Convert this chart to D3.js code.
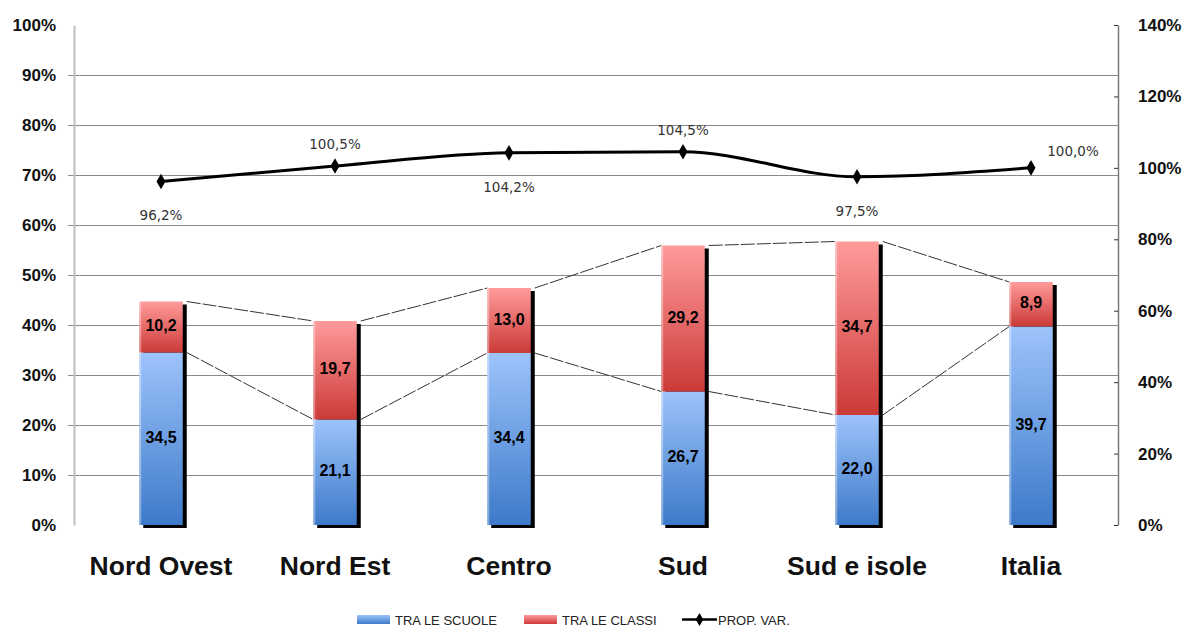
<!DOCTYPE html>
<html>
<head>
<meta charset="utf-8">
<script src="https://cdn.jsdelivr.net/npm/d3@7"></script>
<style>
  body { margin: 0; background: #fff; }
  svg { display: block; }
</style>
</head>
<body>
<svg id="chart" width="1187" height="628"></svg>
<script>
// data
var categories = ["Nord Ovest", "Nord Est", "Centro", "Sud", "Sud e isole", "Italia"];
var traScuole = [34.5, 21.1, 34.4, 26.7, 22.0, 39.7];
var traClassi = [10.2, 19.7, 13.0, 29.2, 34.7, 8.9];
var propVar = [96.2, 100.5, 104.2, 104.5, 97.5, 100.0];
var leftTicks = [0, 10, 20, 30, 40, 50, 60, 70, 80, 90, 100];
var rightTicks = [0, 20, 40, 60, 80, 100, 120, 140];
// where each PROP. VAR. label sits around its point
var labelPlace = ["below", "above", "below", "above", "below", "right"];

var svg = d3.select("#chart");
var fmt = function(v) { return v.toFixed(1).replace(".", ","); };

var x = d3.scaleBand().domain(categories).range([74, 1118])
    .paddingInner(0.75).paddingOuter(0.375);
var y = d3.scaleLinear().domain([0, 100]).range([525, 25]);
var y2 = d3.scaleLinear().domain([0, 140]).range([525, 25]);
var bw = x.bandwidth();

// gradients
var defs = svg.append("defs");
function grad(id, top, bottom) {
    var g = defs.append("linearGradient").attr("id", id)
        .attr("x1", 0).attr("y1", 0).attr("x2", 0).attr("y2", 1);
    g.append("stop").attr("offset", "0%").attr("stop-color", top);
    g.append("stop").attr("offset", "100%").attr("stop-color", bottom);
}
grad("gBlue", "#9dc3fb", "#3d7ac9");
grad("gRed", "#ff9b9b", "#cb3a37");

// gridlines (no line at 0 or 100)
svg.append("g").selectAll("line")
    .data(leftTicks.filter(function(d) { return d > 0 && d < 100; }))
    .enter().append("line")
    .attr("x1", 68).attr("x2", 1118)
    .attr("y1", function(d) { return Math.round(y(d)) + 0.5; })
    .attr("y2", function(d) { return Math.round(y(d)) + 0.5; })
    .style("stroke", "#8a8a8a").style("stroke-width", 1);

// left axis
var leftAxis = d3.axisLeft(y).tickValues(leftTicks).tickSize(0).tickPadding(18)
    .tickFormat(function(d) { return d + "%"; });
var gl = svg.append("g").attr("transform", "translate(74,0)").call(leftAxis);
gl.select(".domain").style("stroke", "#c0c0c0").style("stroke-width", 2);
gl.selectAll("text").style("font-family", "'Liberation Sans', Arial, sans-serif")
    .style("font-size", "17px").style("font-weight", "bold").style("fill", "#111");

// right axis
var rightAxis = d3.axisRight(y2).tickValues(rightTicks).tickSizeInner(-4).tickSizeOuter(0)
    .tickPadding(20).tickFormat(function(d) { return d + "%"; });
var gr = svg.append("g").attr("transform", "translate(1118,0)").call(rightAxis);
gr.select(".domain").style("stroke", "#7a7a7a").style("stroke-width", 1.5);
gr.selectAll(".tick line").style("stroke", "#333");
gr.selectAll("text").style("font-family", "'Liberation Sans', Arial, sans-serif")
    .style("font-size", "17px").style("font-weight", "bold").style("fill", "#111");

// series lines between bars
var seriesLines = svg.append("g");
[traScuole, traScuole.map(function(v, i) { return v + traClassi[i]; })].forEach(function(arr) {
    for (var i = 0; i < categories.length - 1; i++) {
        seriesLines.append("line")
            .attr("x1", x(categories[i]) + bw + 4).attr("y1", y(arr[i]))
            .attr("x2", x(categories[i + 1])).attr("y2", y(arr[i + 1]))
            .style("stroke", "#333").style("stroke-width", 1)
            .style("stroke-dasharray", "14,2");
    }
});

// bars
var bars = svg.append("g").selectAll("g").data(categories).enter().append("g");
bars.append("rect")
    .attr("x", function(d) { return x(d) + 4; })
    .attr("y", function(d, i) { return y(traScuole[i] + traClassi[i]) + 3; })
    .attr("width", bw)
    .attr("height", function(d, i) { return y(0) - y(traScuole[i] + traClassi[i]); })
    .style("fill", "#000");
bars.append("rect")
    .attr("x", function(d) { return x(d); })
    .attr("y", function(d, i) { return y(traScuole[i]); })
    .attr("width", bw)
    .attr("height", function(d, i) { return y(0) - y(traScuole[i]); })
    .style("fill", "url(#gBlue)");
bars.append("rect")
    .attr("x", function(d) { return x(d); })
    .attr("y", function(d, i) { return y(traScuole[i] + traClassi[i]); })
    .attr("width", bw)
    .attr("height", function(d, i) { return y(traScuole[i]) - y(traScuole[i] + traClassi[i]); })
    .style("fill", "url(#gRed)");
// light left edge
bars.append("rect")
    .attr("x", function(d) { return x(d); })
    .attr("y", function(d, i) { return y(traScuole[i] + traClassi[i]); })
    .attr("width", 2)
    .attr("height", function(d, i) { return y(0) - y(traScuole[i] + traClassi[i]); })
    .style("fill", "#fff").style("opacity", 0.35);

var valFont = "'Liberation Sans', Arial, sans-serif";
bars.append("text")
    .attr("x", function(d) { return x(d) + bw / 2; })
    .attr("y", function(d, i) { return y(traScuole[i] / 2); })
    .attr("text-anchor", "middle").attr("dominant-baseline", "middle")
    .style("font-family", valFont).style("font-size", "16px").style("font-weight", "bold")
    .text(function(d, i) { return fmt(traScuole[i]); });
bars.append("text")
    .attr("x", function(d) { return x(d) + bw / 2; })
    .attr("y", function(d, i) { return y(traScuole[i] + traClassi[i] / 2); })
    .attr("text-anchor", "middle").attr("dominant-baseline", "middle")
    .style("font-family", valFont).style("font-size", "16px").style("font-weight", "bold")
    .text(function(d, i) { return fmt(traClassi[i]); });

// PROP. VAR. line
var cx = function(i) { return x(categories[i]) + bw / 2; };
var line = d3.line().curve(d3.curveMonotoneX)
    .x(function(d, i) { return cx(i); })
    .y(function(d) { return y2(d); });
svg.append("path").datum(propVar).attr("d", line)
    .style("fill", "none").style("stroke", "#000").style("stroke-width", 3);
svg.append("g").selectAll("path").data(propVar).enter().append("path")
    .attr("d", d3.symbol().type(d3.symbolDiamond).size(70))
    .attr("transform", function(d, i) { return "translate(" + cx(i) + "," + y2(d) + ")"; })
    .style("fill", "#000");
svg.append("g").selectAll("text").data(propVar).enter().append("text")
    .attr("x", function(d, i) { return labelPlace[i] === "right" ? cx(i) + 42 : cx(i); })
    .attr("y", function(d, i) {
        var p = labelPlace[i];
        return y2(d) + (p === "below" ? 35 : p === "above" ? -21 : -16);
    })
    .attr("text-anchor", "middle").attr("dominant-baseline", "middle")
    .style("font-family", "'DejaVu Sans', Verdana, sans-serif").style("font-size", "13.5px").style("fill", "#333")
    .text(function(d) { return fmt(d) + "%"; });

// category labels
svg.append("g").selectAll("text").data(categories).enter().append("text")
    .attr("x", function(d) { return x(d) + bw / 2; })
    .attr("y", 575)
    .attr("text-anchor", "middle")
    .style("font-family", "'Liberation Sans', Arial, sans-serif")
    .style("font-size", "26.5px").style("font-weight", "bold").style("fill", "#111")
    .text(function(d) { return d; });

// legend
var legend = svg.append("g").style("font-family", "'Liberation Sans', Arial, sans-serif")
    .style("font-size", "13px").style("fill", "#222");
legend.append("rect").attr("x", 357).attr("y", 615).attr("width", 33).attr("height", 9)
    .style("fill", "url(#gBlue)");
legend.append("text").attr("x", 395).attr("y", 625).text("TRA LE SCUOLE");
legend.append("rect").attr("x", 524).attr("y", 615).attr("width", 33).attr("height", 9)
    .style("fill", "url(#gRed)");
legend.append("text").attr("x", 562).attr("y", 625).text("TRA LE CLASSI");
legend.append("line").attr("x1", 682).attr("x2", 717).attr("y1", 619.5).attr("y2", 619.5)
    .style("stroke", "#000").style("stroke-width", 2.5);
legend.append("path").attr("d", d3.symbol().type(d3.symbolDiamond).size(50))
    .attr("transform", "translate(699.5,619.5)").style("fill", "#000");
legend.append("text").attr("x", 718).attr("y", 625).text("PROP. VAR.");
</script>
</body>
</html>
